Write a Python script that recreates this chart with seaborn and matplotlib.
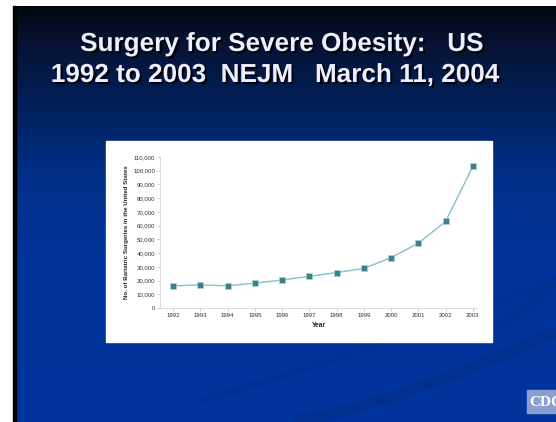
import numpy as np
import pandas as pd
import matplotlib
matplotlib.use("Agg")
import matplotlib.pyplot as plt
import matplotlib.patheffects as pe
from matplotlib.patches import Rectangle
from matplotlib.colors import LinearSegmentedColormap
import seaborn as sns

# data
years = [1992, 1993, 1994, 1995, 1996, 1997, 1998, 1999, 2000, 2001, 2002, 2003]
surgeries = [16200, 16800, 16200, 18100, 20400, 23100, 25800, 28800, 36700, 47200, 63100, 103200]
y_ticks = list(range(0, 110001, 10000))

df = pd.DataFrame({"Year": years, "Surgeries": surgeries})

sns.set_style("white")
plt.rcParams['font.family'] = ['Liberation Sans', 'DejaVu Sans']

W, H = 556, 422
fig = plt.figure(figsize=(W / 100, H / 100), dpi=100, facecolor="white")

# slide background
bg = fig.add_axes([0, 0, 1, 1])
bg.set_xlim(0, W)
bg.set_ylim(H, 0)
bg.axis("off")
cmap = LinearSegmentedColormap.from_list(
    "slide", [(0, "#03060f"), (0.08, "#071230"), (0.25, "#00215e"),
              (0.4, "#002f88"), (0.6, "#003399"), (1, "#00349c")])
grad = np.linspace(0, 1, 256).reshape(-1, 1)
bg.imshow(grad, cmap=cmap, aspect="auto", extent=(13, W, H, 6), zorder=0)
bg.add_patch(Rectangle((13, 6), 3, H - 6, color="black", zorder=1))

# faint swooshes
t = np.linspace(0, 1, 200)
bg.plot(300 + 260 * t, 420 - 90 * t ** 1.3, color="#002d88", lw=8, alpha=0.6, zorder=1)
bg.plot(200 + 356 * t, 400 - 120 * t ** 1.1, color="#002f8e", lw=5, alpha=0.5, zorder=1)
bg.plot(490 + 80 * np.sin(np.pi * t), 180 + 150 * t, color="#002f8c", lw=7, alpha=0.5, zorder=1)

# white chart box
bg.add_patch(Rectangle((106, 141), 386, 201, color="white", zorder=2))

# CDC logo box (cut by the right edge, as on the slide)
bg.add_patch(Rectangle((527, 390), 29, 23, color="#8a9fd0", zorder=2))
bg.text(529, 402, "CDC", color="white", fontsize=11, family="Liberation Serif",
        fontweight="bold", va="center", ha="left", zorder=3, clip_on=True)

# title
shadow = [pe.withSimplePatchShadow(offset=(1.5, -1.5), shadow_rgbFace="black", alpha=0.9)]
bg.text(282, 44, "Surgery for Severe Obesity:   US", color="#eeeeff", fontsize=18.8,
        fontweight="bold", ha="center", va="center", path_effects=shadow, zorder=3)
bg.text(275, 75, "1992 to 2003  NEJM   March 11, 2004", color="#eeeeff", fontsize=18.8,
        fontweight="bold", ha="center", va="center", path_effects=shadow, zorder=3)

# chart
ax = fig.add_axes([160 / W, 1 - 308 / H, (477 - 160) / W, (308 - 157) / H])
ax.set_facecolor("white")
sns.lineplot(data=df, x="Year", y="Surgeries", ax=ax, color="#86bfc9", lw=1.0,
             marker="s", markersize=4.5, markerfacecolor="#3f7f8c",
             markeredgecolor="#a9d3da", markeredgewidth=0.5)
ax.set_xlim(1991.52, 2003.15)
ax.set_ylim(0, 110000)
ax.set_xticks(years)
ax.set_xticklabels([str(y) for y in years], fontsize=4.3, color="#333333")
ax.set_yticks(y_ticks)
ax.set_yticklabels([f"{v:,}" for v in y_ticks], fontsize=4.3, color="#333333")
ax.tick_params(axis="both", length=2, width=0.4, color="#aaaaaa", pad=1.5,
               bottom=True, left=True)
for side in ["top", "right"]:
    ax.spines[side].set_visible(False)
for side in ["left", "bottom"]:
    ax.spines[side].set_color("#cccccc")
    ax.spines[side].set_linewidth(0.5)
ax.set_xlabel("Year", fontsize=4.8, fontweight="bold", labelpad=3)
ax.set_ylabel("No. of Bariatric Surgeries in the United States", fontsize=4.4,
              fontweight="bold", labelpad=3)

fig.savefig("out.png", dpi=100)
